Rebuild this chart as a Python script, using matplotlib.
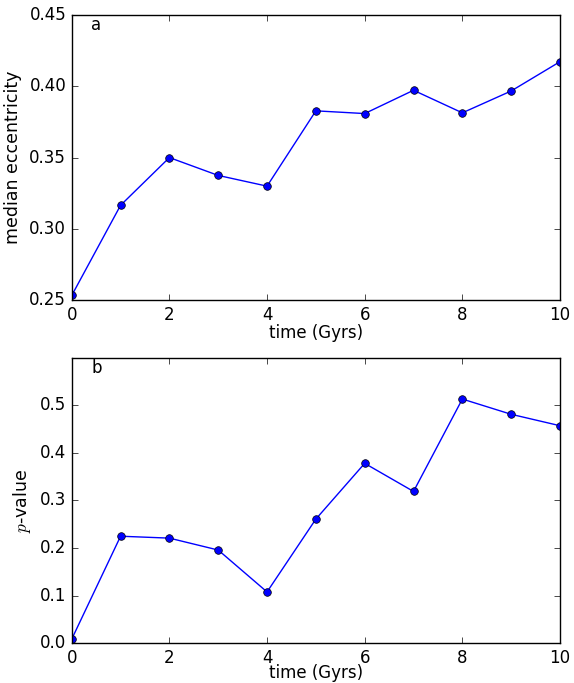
import matplotlib
matplotlib.use("Agg")
import matplotlib.pyplot as plt

# data
time_gyrs = [0, 1, 2, 3, 4, 5, 6, 7, 8, 9, 10]
median_ecc = [0.2535, 0.3166, 0.3500, 0.3375, 0.3300, 0.3827,
              0.3808, 0.3971, 0.3813, 0.3966, 0.4171]
p_values = [0.009, 0.225, 0.221, 0.196, 0.108, 0.261,
            0.378, 0.319, 0.513, 0.481, 0.457]

plt.style.use("classic")
plt.rcParams["font.size"] = 12
plt.rcParams["mathtext.fontset"] = "cm"

fig, (ax1, ax2) = plt.subplots(2, 1, figsize=(5.74, 6.83), dpi=100)
fig.patch.set_facecolor("white")
fig.subplots_adjust(left=0.125, right=0.9756, top=0.9785, bottom=0.058, hspace=0.2)

ax1.plot(time_gyrs, median_ecc, "b-o", markersize=5.5, linewidth=1)
ax1.set_xlim(0, 10)
ax1.set_ylim(0.25, 0.45)
ax1.set_yticks([0.25, 0.30, 0.35, 0.40, 0.45])
ax1.set_xlabel("time (Gyrs)", labelpad=0)
ax1.set_ylabel("median eccentricity", fontsize=12.5)
ax1.text(0.04, 0.995, "a", transform=ax1.transAxes, va="top")

ax2.plot(time_gyrs, p_values, "b-o", markersize=5.5, linewidth=1)
ax2.set_xlim(0, 10)
ax2.set_ylim(0.0, 0.6)
ax2.set_yticks([0.0, 0.1, 0.2, 0.3, 0.4, 0.5])
ax2.set_xlabel("time (Gyrs)", labelpad=-2)
ax2.set_ylabel("$p$-value", fontsize=12.5)
ax2.text(0.04, 0.995, "b", transform=ax2.transAxes, va="top")

for ax in (ax1, ax2):
    ax.set_facecolor("white")

plt.savefig("out.png", dpi=100, facecolor="white")
